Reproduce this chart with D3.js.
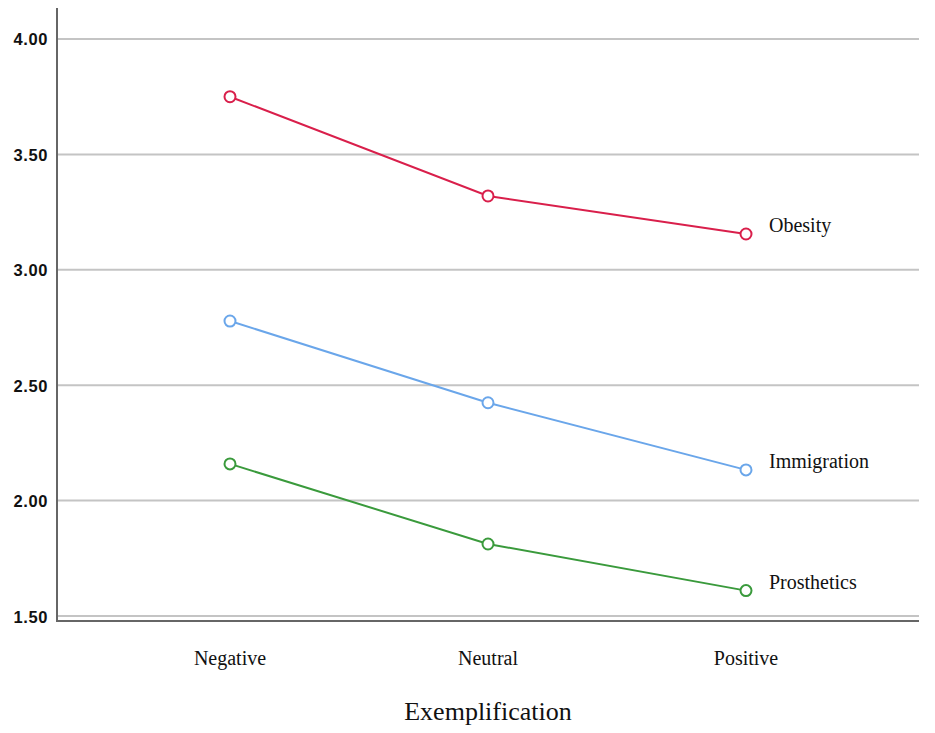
<!DOCTYPE html>
<html><head><meta charset="utf-8">
<script src="https://cdn.jsdelivr.net/npm/d3@7/dist/d3.min.js"></script>
<style>body{margin:0;background:#fff}svg{display:block}</style>
</head><body>
<script>
const categories = ["Negative", "Neutral", "Positive"];
const seriesNames = ["Obesity", "Immigration", "Prosthetics"];
const obesity = [3.75, 3.32, 3.155];
const immigration = [2.778, 2.424, 2.133];
const prosthetics = [2.159, 1.812, 1.61];
const yTicks = [1.5, 2.0, 2.5, 3.0, 3.5, 4.0];
const colors = ["#d91f4b", "#6aa6ea", "#3a9a3c"];
const xTitle = "Exemplification";

const W = 935, H = 733;
const svg = d3.select("body").append("svg").attr("width", W).attr("height", H);

const x = d3.scalePoint().domain(categories).range([230, 746]);
const y = d3.scaleLinear().domain([1.5, 4.0]).range([616, 39]);
const left = 57, right = 919, axisY = 621;

// gridlines
svg.append("g").selectAll("line").data(yTicks).join("line")
  .attr("x1", left).attr("x2", right)
  .attr("y1", d => y(d)).attr("y2", d => y(d))
  .attr("stroke", "#c4c4c4").attr("stroke-width", 2);

// axes lines
svg.append("line").attr("x1", left).attr("x2", left).attr("y1", 8).attr("y2", axisY + 1)
  .attr("stroke", "#666").attr("stroke-width", 2);
svg.append("line").attr("x1", left).attr("x2", right).attr("y1", axisY).attr("y2", axisY)
  .attr("stroke", "#666").attr("stroke-width", 2);

// y tick labels
svg.append("g").selectAll("text").data(yTicks).join("text")
  .attr("x", 48).attr("y", d => y(d) + (d === 1.5 ? 3 : 2))
  .attr("text-anchor", "end").attr("dominant-baseline", "middle")
  .attr("font-family", "Liberation Sans, Arial, sans-serif").attr("font-weight", "bold")
  .attr("font-size", 16.5).attr("letter-spacing", 0.6).attr("fill", "#111")
  .text(d => d3.format(".2f")(d));

// x tick labels
svg.append("g").selectAll("text").data(categories).join("text")
  .attr("x", d => x(d)).attr("y", 665)
  .attr("text-anchor", "middle")
  .attr("font-family", "Liberation Serif, Times New Roman, serif")
  .attr("font-size", 20).attr("fill", "#111").text(d => d);

// x title
svg.append("text").attr("x", (x("Negative") + x("Positive")) / 2).attr("y", 720)
  .attr("text-anchor", "middle")
  .attr("font-family", "Liberation Serif, Times New Roman, serif")
  .attr("font-size", 26).attr("fill", "#111").text(xTitle);

const series = [obesity, immigration, prosthetics];
const line = d3.line().x((d, i) => x(categories[i])).y(d => y(d));
series.forEach((vals, k) => {
  const g = svg.append("g");
  g.append("path").datum(vals).attr("d", line)
    .attr("fill", "none").attr("stroke", colors[k]).attr("stroke-width", 2);
  g.selectAll("circle").data(vals).join("circle")
    .attr("cx", (d, i) => x(categories[i])).attr("cy", d => y(d)).attr("r", 5.5)
    .attr("fill", "#fff").attr("stroke", colors[k]).attr("stroke-width", 2);
  g.append("text").attr("x", 769).attr("y", y(vals[vals.length - 1]) - 6.5)
    .attr("dominant-baseline", "middle")
    .attr("font-family", "Liberation Serif, Times New Roman, serif")
    .attr("font-size", 20).attr("fill", "#111").text(seriesNames[k]);
});
</script>
</body></html>
